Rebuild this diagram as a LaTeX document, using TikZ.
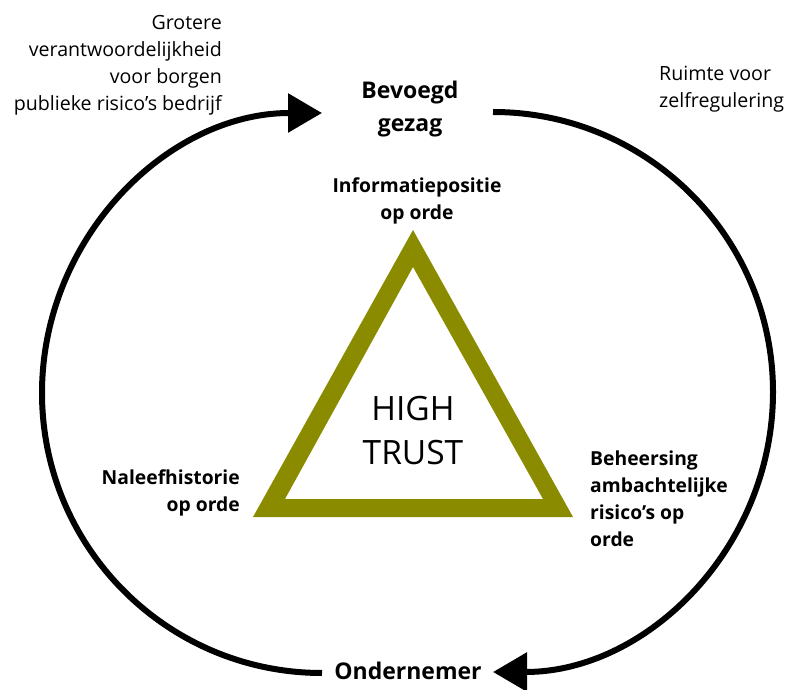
\documentclass[tikz,border=0pt]{standalone}
\usepackage{fontspec}
\setmainfont{Open Sans}
\usetikzlibrary{arrows.meta}
\definecolor{trustolive}{RGB}{139,139,0}
\tikzset{
	kringpijl/.style={line width=6pt, -{Triangle[length=34pt,width=38pt]}},
	actor/.style={font=\bfseries\fontsize{23}{33}\selectfont, align=center, inner sep=0pt},
	hoek/.style={font=\bfseries\fontsize{19.3}{27}\selectfont, inner sep=0pt},
	toelichting/.style={font=\fontsize{19.6}{27}\selectfont, inner sep=0pt}
}

\begin{document}
\begin{tikzpicture}[x=1pt,y=1pt]
\useasboundingbox (0,0) rectangle (787,689);

% driehoek
\coordinate (top) at (413,459);
\coordinate (links) at (253,172);
\coordinate (rechts) at (573,172);
\fill[trustolive, even odd rule] (top) -- (links) -- (rechts) -- cycle
	(413,422) -- (285,190) -- (543,190) -- cycle;
\node[font=\fontsize{33.5}{44}\selectfont, align=center, inner sep=0pt, anchor=north] (trust) at (413,293) {HIGH\\TRUST};

% hoeken
\node[hoek, align=center, anchor=north] (info) at (417,511) {Informatiepositie\\op orde};
\node[hoek, align=right, anchor=north east] (naleef) at (240,219) {Naleefhistorie\\op orde};
\node[hoek, align=left, anchor=north west] (beheer) at (590,238) {Beheersing\\ambachtelijke\\risico’s op\\orde};

% actoren
\node[actor, anchor=north] (gezag) at (410,608) {Bevoegd\\gezag};
\node[actor, anchor=north] (ondernemer) at (408,27) {Ondernemer};

% kringloop
\coordinate (ond-l) at (322,16);
\coordinate (gez-r) at (493,577);
\draw[kringpijl] (ond-l) arc[start angle=-90, end angle=-270, radius=280];
\draw[kringpijl] (gez-r) arc[start angle=90, end angle=-90, radius=280];

\node[toelichting, align=right, anchor=north east] (verantw) at (222,674) {Grotere\\verantwoordelijkheid\\voor borgen\\publieke risico’s bedrijf};
\node[toelichting, align=left, anchor=north west] (ruimte) at (659,623) {Ruimte voor\\zelfregulering};
\end{tikzpicture}
\end{document}
